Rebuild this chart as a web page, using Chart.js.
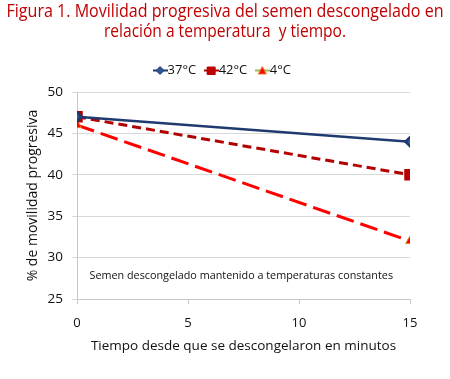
<!DOCTYPE html>
<html>
<head>
<meta charset="utf-8">
<script src="https://cdn.jsdelivr.net/npm/chart.js@4.4.0/dist/chart.umd.min.js"></script>
<style>
  body { margin: 0; background: #fff; }
  #wrap { width: 450px; height: 379px; }
</style>
</head>
<body>
<div id="wrap"><canvas id="chart" width="450" height="379"></canvas></div>
<script>
// data
const minutes = [0, 15];
const seriesNames = ['37°C', '42°C', '4°C'];
const mot37 = [47, 44];
const mot42 = [47, 40];
const mot4 = [46, 32];
const yTicks = [25, 30, 35, 40, 45, 50];
const xTicks = [0, 5, 10, 15];
const titleLines = ['Figura 1. Movilidad progresiva del semen descongelado en', 'relación a temperatura  y tiempo.'];
const note = 'Semen descongelado mantenido a temperaturas constantes';

const font = "'Open Sans', sans-serif";
const ctx = document.getElementById('chart');

const toPoints = vals => minutes.map((m, i) => ({ x: m, y: vals[i] }));

// small legend symbols: a short line with the marker on it
const makeSymbol = (lineColor, fill, stroke, shape) => {
  const c = document.createElement('canvas');
  c.width = 15; c.height = 11;
  const g = c.getContext('2d');
  g.strokeStyle = lineColor; g.lineWidth = 2;
  g.beginPath(); g.moveTo(0, 5.5); g.lineTo(15, 5.5); g.stroke();
  g.fillStyle = fill; g.strokeStyle = stroke; g.lineWidth = 1;
  g.beginPath();
  if (shape === 'diamond') { g.moveTo(7.5, 1.5); g.lineTo(11.5, 5.5); g.lineTo(7.5, 9.5); g.lineTo(3.5, 5.5); }
  if (shape === 'square') { g.rect(3.5, 2, 8, 7.5); }
  if (shape === 'triangle') { g.moveTo(7.5, 1.5); g.lineTo(11.5, 9); g.lineTo(3.5, 9); }
  g.closePath(); g.fill(); g.stroke();
  return c;
};
const symbols = [
  makeSymbol('#1f3a6e', '#2e5a9c', '#1f3a6e', 'diamond'),
  makeSymbol('#b30000', '#c00000', '#b30000', 'square'),
  makeSymbol('#9bbb59', '#ff0000', '#e08020', 'triangle')
];

// title drawn as two centred lines, squeezed to the width they have in the figure
const titlePlugin = {
  id: 'figTitle',
  afterDraw(chart) {
    const c = chart.ctx;
    const rows = [{ y: 17, w: 437 }, { y: 37, w: 242 }];
    c.save();
    c.font = '17.5px ' + font;
    c.fillStyle = '#c00000';
    c.textAlign = 'center';
    c.textBaseline = 'alphabetic';
    titleLines.forEach((t, i) => {
      const k = rows[i].w / c.measureText(t).width;
      c.save();
      c.translate(225, rows[i].y);
      c.scale(k, 1);
      c.fillText(t, 0, 0);
      c.restore();
    });
    c.restore();
  }
};

// a bit more space under the legend
const legendGap = {
  id: 'legendGap',
  beforeInit(chart) {
    const lg = chart.legend;
    const fit = lg.fit.bind(lg);
    lg.fit = () => { fit(); lg.height += 5; };
  }
};

// note text inside the plot
const notePlugin = {
  id: 'note',
  afterDatasetsDraw(chart) {
    const { ctx, scales } = chart;
    ctx.save();
    ctx.font = '10.8px ' + font;
    ctx.fillStyle = '#111';
    ctx.textAlign = 'center';
    ctx.textBaseline = 'middle';
    ctx.fillText(note, scales.x.getPixelForValue(7.4), scales.y.getPixelForValue(27.8));
    ctx.restore();
  }
};

new Chart(ctx, {
  type: 'line',
  data: {
    datasets: [
      {
        label: seriesNames[0],
        data: toPoints(mot37),
        borderColor: '#1f3a6e',
        backgroundColor: '#2e5a9c',
        pointBorderColor: '#1f3a6e',
        borderWidth: 2.5,
        pointStyle: 'rectRot',
        pointRadius: 4.5,
        pointHoverRadius: 4.5
      },
      {
        label: seriesNames[1],
        data: toPoints(mot42),
        borderColor: '#b30000',
        backgroundColor: '#c00000',
        pointBorderColor: '#b30000',
        borderWidth: 3,
        borderDash: [9, 5],
        pointStyle: 'rect',
        pointRadius: 6,
        pointHoverRadius: 6
      },
      {
        label: seriesNames[2],
        data: toPoints(mot4),
        borderColor: '#ff0000',
        backgroundColor: '#ff0000',
        pointBorderColor: '#e08020',
        pointBorderWidth: 1,
        borderWidth: 3,
        borderDash: [18, 7],
        pointStyle: 'triangle',
        pointRadius: 5,
        pointHoverRadius: 5
      }
    ]
  },
  options: {
    responsive: false,
    animation: false,
    layout: { padding: { left: 0, right: 0, top: 50, bottom: 25 } },
    plugins: {
      title: { display: false },
      legend: {
        labels: {
          usePointStyle: true,
          pointStyleWidth: 2,
          boxHeight: 10,
          padding: 14,
          color: '#111',
          font: { family: font, size: 13 },
          generateLabels: chart => chart.data.datasets.map((ds, i) => ({
            text: ds.label,
            pointStyle: symbols[i],
            fontColor: '#111',
            datasetIndex: i,
            lineWidth: 0
          }))
        }
      },
      tooltip: { enabled: false }
    },
    scales: {
      x: {
        type: 'linear',
        min: 0,
        max: 15,
        afterBuildTicks: s => { s.ticks = xTicks.map(v => ({ value: v })); },
        afterFit: s => { s.height = 55; },
        grid: { drawOnChartArea: false, drawTicks: true, tickLength: 5, color: '#c8c8c8' },
        border: { color: '#c8c8c8' },
        ticks: { color: '#111', font: { family: font, size: 13 }, padding: 11 },
        title: {
          display: true,
          text: 'Tiempo desde que se descongelaron en minutos',
          color: '#111',
          font: { family: font, size: 13.5 },
          padding: { top: 4, bottom: 0 }
        }
      },
      y: {
        min: 25,
        max: 50,
        afterBuildTicks: s => { s.ticks = yTicks.map(v => ({ value: v })); },
        afterFit: s => { s.width = 77; },
        grid: { color: '#d9d9d9', tickLength: 5 },
        border: { color: '#c8c8c8' },
        ticks: { color: '#111', font: { family: font, size: 13.5 }, padding: 9 },
        title: {
          display: true,
          text: '% de movilidad progresiva',
          color: '#111',
          font: { family: font, size: 14 },
          padding: { top: 25, bottom: 0 }
        }
      },
      // empty right axis, only keeps room on the right
      yRight: {
        position: 'right',
        min: 25,
        max: 50,
        afterFit: s => { s.width = 40; },
        grid: { display: false },
        border: { display: false },
        ticks: { display: false }
      }
    }
  },
  plugins: [titlePlugin, legendGap, notePlugin]
});
</script>
</body>
</html>
